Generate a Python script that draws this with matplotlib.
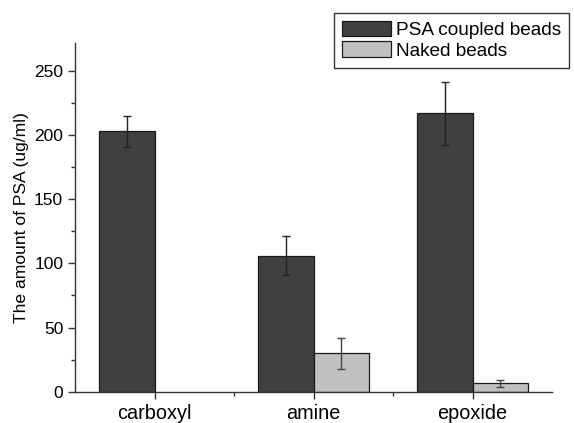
import numpy as np
import matplotlib
matplotlib.use('Agg')
import matplotlib.pyplot as plt
from matplotlib.ticker import MultipleLocator, FixedLocator

#%% Data
categories = ['carboxyl', 'amine', 'epoxide']
psa_coupled = [203, 106, 217]
psa_coupled_err = [12, 15, 24.5]
naked = [0, 30, 6.5]
naked_err = [0, 12, 3]
series_labels = ['PSA coupled beads', 'Naked beads']

#%% Plot
plt.rcParams['font.family'] = ['Liberation Sans', 'DejaVu Sans']

fig = plt.figure(figsize=(5.74, 4.23), dpi=100)
ax = fig.add_axes([0.1307, 0.074, 0.831, 0.825])

x = np.arange(1, len(categories) + 1)
w = 0.35
naked_arr = np.array(naked)
mask = naked_arr > 0

ax.bar(x, psa_coupled, width=-w, align='edge', color='#404040',
       edgecolor='#1a1a1a', linewidth=0.9, label=series_labels[0])
naked_bars = ax.bar(x, naked, width=w, align='edge', color='#c0c0c0',
                    edgecolor='#1a1a1a', linewidth=0.9, label=series_labels[1])

ax.errorbar(x - w / 2, psa_coupled, yerr=psa_coupled_err, fmt='none',
            ecolor='#222222', elinewidth=1, capsize=3, capthick=1)
ax.errorbar((x + w / 2)[mask], naked_arr[mask], yerr=np.array(naked_err)[mask],
            fmt='none', ecolor='#444444', elinewidth=1, capsize=3, capthick=1)

ax.set_xlim(0.5, 3.5)
ax.set_ylim(0, 272)
ax.set_xticks(x)
ax.set_xticklabels(categories, fontsize=14.3)
ax.xaxis.set_minor_locator(FixedLocator([1.5, 2.5]))
ax.yaxis.set_major_locator(MultipleLocator(50))
ax.yaxis.set_minor_locator(MultipleLocator(25))
ax.tick_params(axis='y', labelsize=12.5)
ax.tick_params(which='major', direction='out', length=5, width=1, color='#333333')
ax.tick_params(which='minor', direction='out', length=3, width=1, color='#333333')
ax.set_ylabel('The amount of PSA (ug/ml)', fontsize=12.6, labelpad=4)

for side in ['top', 'right']:
    ax.spines[side].set_visible(False)
for side in ['left', 'bottom']:
    ax.spines[side].set_color('#333333')
    ax.spines[side].set_linewidth(1)

leg = fig.legend(loc='upper left', bbox_to_anchor=(334 / 574, 1 - 13 / 423),
                 fontsize=13.7, frameon=True, fancybox=False, handlelength=2.55,
                 handleheight=0.85, handletextpad=0.3, borderpad=0.42,
                 labelspacing=0.12, borderaxespad=0)
leg.get_frame().set_edgecolor('black')
leg.get_frame().set_linewidth(1)

# hide the outline of zero-height bars (after the legend copied the style)
for patch, m in zip(naked_bars, mask):
    if not m:
        patch.set_linewidth(0)

fig.savefig('out.png', dpi=100)
